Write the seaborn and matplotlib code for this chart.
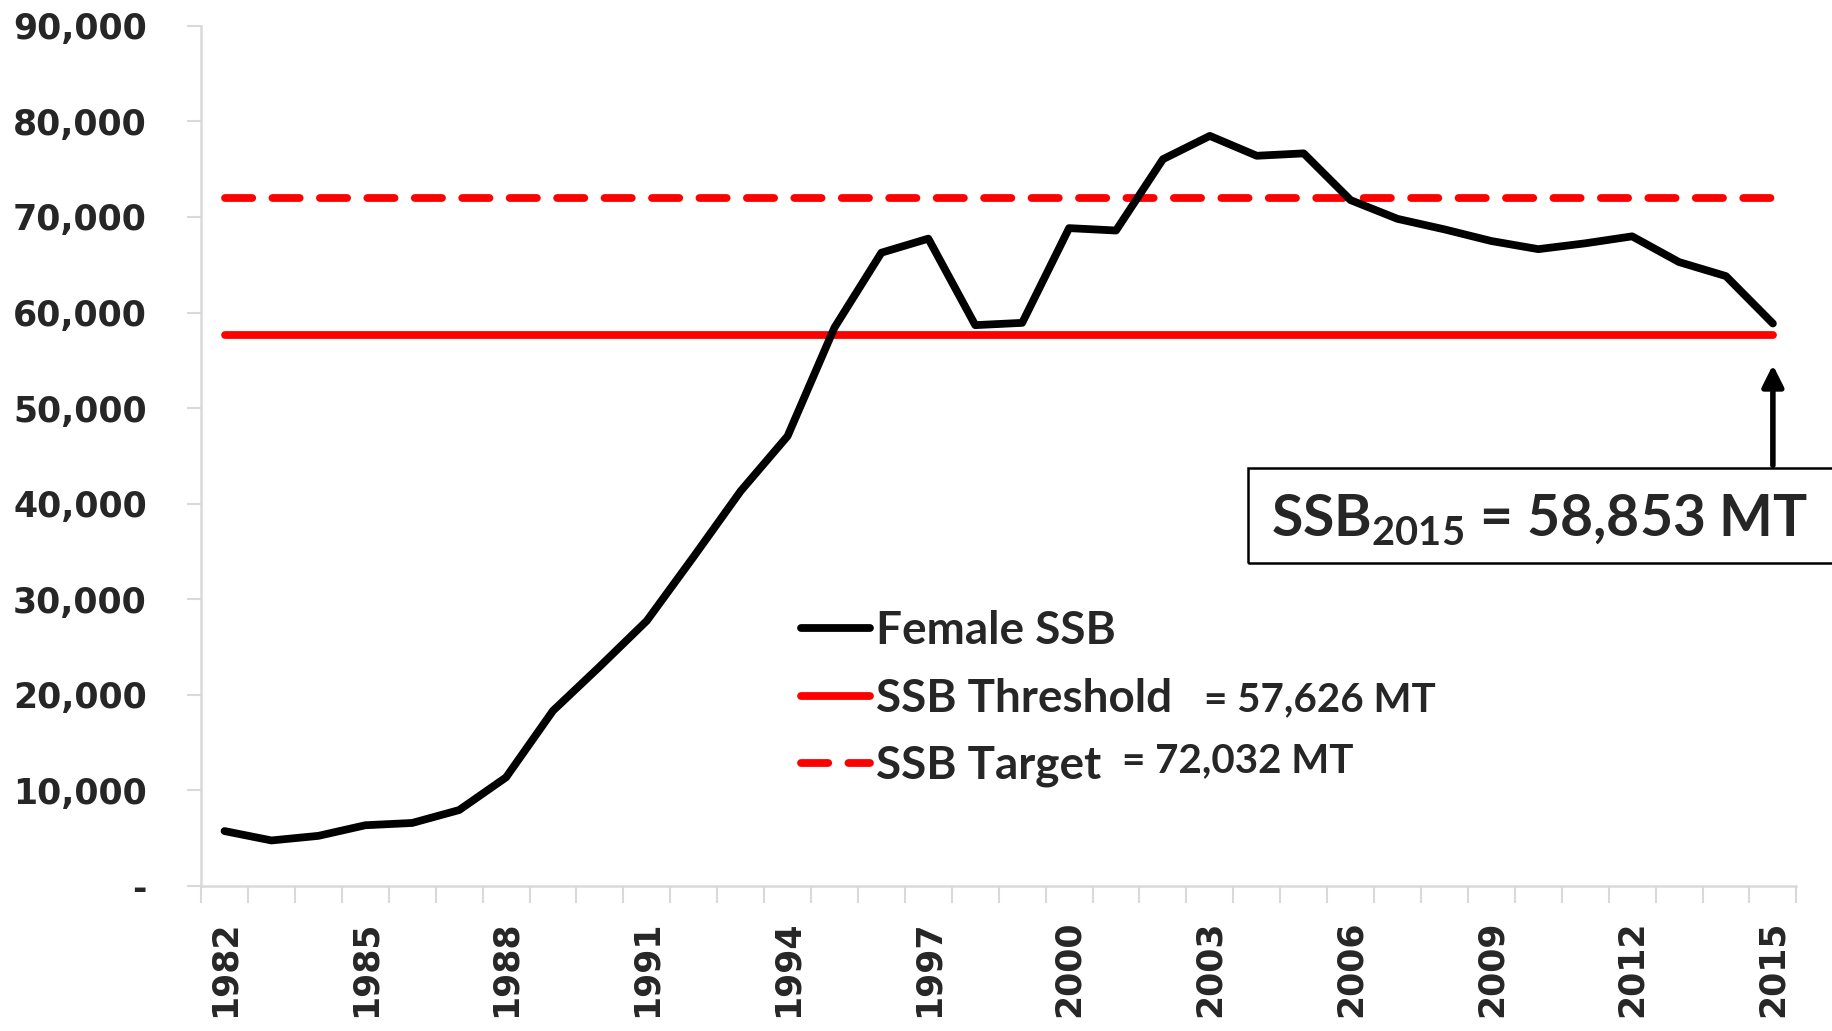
import matplotlib
matplotlib.use("Agg")
import matplotlib.pyplot as plt
import matplotlib.patches as patches
from matplotlib.ticker import FuncFormatter
import seaborn as sns
import pandas as pd

# data
years = list(range(1982, 2016))
female_ssb = [5750, 4770, 5250, 6360, 6600, 7950, 11370, 18340, 22980, 27750,
              34470, 41320, 47070, 58430, 66260, 67730, 58680, 58920, 68830, 68580,
              76040, 78480, 76400, 76650, 71760, 69800, 68700, 67480, 66630, 67240,
              67970, 65280, 63810, 58853]
ssb_threshold = 57626
ssb_target = 72032
label_years = years[::3]
y_ticks = list(range(0, 90001, 10000))

sns.set_style("white")
plt.rcParams['font.family'] = ['Lato', 'DejaVu Sans']
plt.rcParams['mathtext.fontset'] = 'custom'
plt.rcParams['mathtext.rm'] = 'Lato:bold'
plt.rcParams['mathtext.bf'] = 'Lato:bold'

df = pd.DataFrame({"year": years,
                   "Female SSB": female_ssb,
                   "SSB Threshold": [ssb_threshold] * len(years),
                   "SSB Target": [ssb_target] * len(years)})

fig = plt.figure(figsize=(18.33, 10.31), dpi=100)
ax = fig.add_axes([0.1097, 0.1406, 0.8703, 0.8344])

red = "#ff0000"
lw = 5.6
sns.lineplot(data=df, x="year", y="SSB Threshold", color=red, lw=lw,
             label="SSB Threshold", ax=ax, solid_capstyle="round")
sns.lineplot(data=df, x="year", y="SSB Target", color=red, lw=lw,
             label="SSB Target", ax=ax, dashes=False)
ax.lines[-1].set_dashes([3.5, 2.6])
ax.lines[-1].set_dash_capstyle("round")
sns.lineplot(data=df, x="year", y="Female SSB", color="black", lw=lw,
             label="Female SSB", ax=ax, solid_capstyle="round")

# axes
ax.set_xlim(1981.5, 2015.5)
ax.set_ylim(0, 90000)
ax.set_xlabel("")
ax.set_ylabel("")
ax.set_yticks(y_ticks)
ax.yaxis.set_major_formatter(FuncFormatter(lambda v, p: "-" if v == 0 else f"{v:,.0f}"))
ax.set_xticks(label_years)
ax.set_xticklabels([str(y) for y in label_years], rotation=90)
ax.set_xticks([y - 0.5 for y in years] + [2015.5], minor=True)

grey = "#d9d9d9"
for side in ["top", "right"]:
    ax.spines[side].set_visible(False)
for side in ["left", "bottom"]:
    ax.spines[side].set_color(grey)
    ax.spines[side].set_linewidth(1.8)

ax.tick_params(axis="y", length=10, width=1.5, color=grey, pad=29, left=True)
ax.tick_params(axis="x", which="major", length=0, pad=25)
ax.tick_params(axis="x", which="minor", length=12, width=1.5, color=grey, bottom=True)
for lab in ax.get_yticklabels() + ax.get_xticklabels():
    lab.set_fontfamily("DejaVu Sans")
    lab.set_fontweight("bold")
    lab.set_fontsize(25)

# legend
handles, labels = ax.get_legend_handles_labels()
order = [labels.index(n) for n in ["Female SSB", "SSB Threshold", "SSB Target"]]
ax.legend([handles[i] for i in order], [labels[i] for i in order],
          loc="upper left", bbox_to_anchor=(0.437, 0.408),
          bbox_transform=fig.transFigure, frameon=False,
          borderpad=0, borderaxespad=0, handlelength=1.5, handletextpad=0.14,
          labelspacing=0.55, prop={"family": "Lato", "weight": "bold", "size": 33})

fig.text(1204 / 1833, 1 - 711 / 1031, "= 57,626 MT", fontsize=29, fontweight="bold",
         va="baseline", ha="left")
fig.text(1122 / 1833, 1 - 772 / 1031, "= 72,032 MT", fontsize=29, fontweight="bold",
         va="baseline", ha="left")

# callout box with arrow
box = patches.Rectangle((1248 / 1833, 1 - 563 / 1031), 0.4, 95 / 1031,
                        transform=fig.transFigure, fill=False, edgecolor="black",
                        lw=1.8, clip_on=False)
fig.patches.append(box)
fig.text(1271 / 1833, 1 - 537 / 1031, r"SSB$_{\mathrm{2015}}$ = 58,853 MT",
         fontsize=41, fontweight="bold", va="baseline", ha="left")
ax.annotate("", xy=(2015, 54810), xytext=(2015, 43720),
            arrowprops=dict(arrowstyle="-|>", lw=4, color="black", mutation_scale=32))

fig.savefig("out.png", dpi=100)
